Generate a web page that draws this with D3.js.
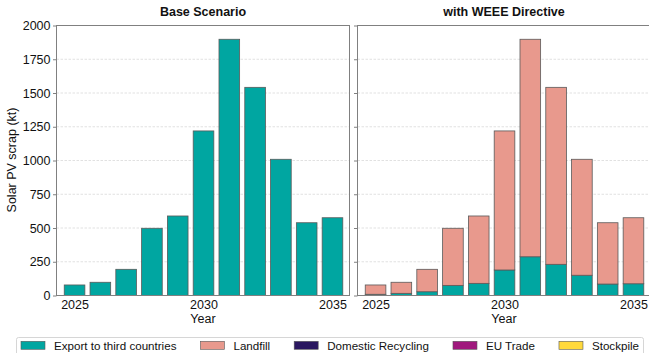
<!DOCTYPE html>
<html>
<head>
<meta charset="utf-8">
<script src="https://cdn.jsdelivr.net/npm/d3@7"></script>
<style>
  html, body { margin: 0; padding: 0; background: #fff; }
  svg { display: block; font-family: "Liberation Sans", Arial, sans-serif; }
</style>
</head>
<body>
<svg id="chart" width="649" height="353"></svg>
<script>
// Solar PV scrap flows (kt) by year, two scenarios
const years = [2025, 2026, 2027, 2028, 2029, 2030, 2031, 2032, 2033, 2034, 2035];

// Base scenario: everything exported to third countries
const baseExport = [78, 98, 194, 498, 589, 1219, 1898, 1542, 1009, 539, 576];
const baseLandfill = [0, 0, 0, 0, 0, 0, 0, 0, 0, 0, 0];

// WEEE Directive scenario
const weeeExport = [9, 16, 28, 75, 90, 189, 287, 231, 150, 85, 87];
const weeeLandfill = [69, 82, 166, 423, 499, 1030, 1611, 1311, 859, 454, 489];

// Flows that are zero in both scenarios (legend entries only)
const domesticRecycling = [0, 0, 0, 0, 0, 0, 0, 0, 0, 0, 0];
const euTrade = [0, 0, 0, 0, 0, 0, 0, 0, 0, 0, 0];
const stockpile = [0, 0, 0, 0, 0, 0, 0, 0, 0, 0, 0];

const categories = ["Export to third countries", "Landfill", "Domestic Recycling", "EU Trade", "Stockpile"];
const colors = ["#00a6a1", "#e8998d", "#2a1760", "#a0197d", "#ffd93c"];

const yTicks = [0, 250, 500, 750, 1000, 1250, 1500, 1750, 2000];
const xTicks = [2025, 2030, 2035];
const panelTitles = ["Base Scenario", "with WEEE Directive"];
const yLabel = "Solar PV scrap (kt)";
const xLabel = "Year";

const panels = [
  { title: panelTitles[0], series: [baseExport, baseLandfill, domesticRecycling, euTrade, stockpile] },
  { title: panelTitles[1], series: [weeeExport, weeeLandfill, domesticRecycling, euTrade, stockpile] }
];

const svg = d3.select("#chart");
const spineColor = "#808080";
const plotTop = 25.5, plotBottom = 295.5;
const panelLeft = [56.5, 357.5];
const panelWidth = 293;
const barWidth = 0.8;

const y = d3.scaleLinear().domain([0, 2000]).range([plotBottom, plotTop]);

panels.forEach((p, pi) => {
  const x0 = panelLeft[pi];
  const x = d3.scaleLinear().domain([2024.3, 2035.66]).range([x0, x0 + panelWidth]);
  const g = svg.append("g");

  // dashed horizontal grid
  g.append("g").selectAll("line")
    .data(yTicks.filter(t => t > 0 && t < 2000))
    .join("line")
    .attr("x1", x0).attr("x2", x0 + panelWidth)
    .attr("y1", d => y(d)).attr("y2", d => y(d))
    .attr("stroke", "#d4d4d4").attr("stroke-width", 0.7)
    .attr("stroke-dasharray", "2.5,1.5");

  // stacked bars
  const rows = years.map((yr, i) => {
    const r = { year: yr };
    categories.forEach((c, ci) => r[c] = p.series[ci][i]);
    return r;
  });
  const stacked = d3.stack().keys(categories)(rows);
  stacked.forEach((layer, li) => {
    g.append("g").selectAll("rect")
      .data(layer.filter(d => d[1] - d[0] > 0))
      .join("rect")
      .attr("x", d => x(d.data.year - barWidth / 2))
      .attr("width", d => x(d.data.year + barWidth / 2) - x(d.data.year - barWidth / 2))
      .attr("y", d => y(d[1]))
      .attr("height", d => y(d[0]) - y(d[1]))
      .attr("fill", colors[li])
      .attr("stroke", "#5a5a5a")
      .attr("stroke-width", 0.8);
  });

  // y axis
  const yAxis = d3.axisLeft(y).tickValues(yTicks).tickSize(3.5).tickPadding(2.5)
    .tickFormat(pi === 0 ? d3.format("d") : () => "");
  const ya = g.append("g").attr("transform", `translate(${x0},0)`).call(yAxis);
  ya.select(".domain").remove();
  ya.selectAll(".tick line").attr("stroke", spineColor);
  ya.selectAll(".tick text").attr("fill", "#111").attr("font-size", 12.5)
    .attr("font-family", "Liberation Sans, Arial, sans-serif");

  // x axis (labels only)
  const xAxis = d3.axisBottom(x).tickValues(xTicks).tickSize(0).tickPadding(5).tickFormat(d3.format("d"));
  const xa = g.append("g").attr("transform", `translate(0,${plotBottom})`).call(xAxis);
  xa.select(".domain").remove();
  xa.selectAll(".tick text").attr("fill", "#111").attr("font-size", 12.5)
    .attr("font-family", "Liberation Sans, Arial, sans-serif");

  // frame
  g.append("rect")
    .attr("x", x0).attr("y", plotTop)
    .attr("width", panelWidth).attr("height", plotBottom - plotTop)
    .attr("fill", "none").attr("stroke", spineColor).attr("stroke-width", 1);

  // titles
  g.append("text")
    .attr("x", x0 + panelWidth / 2).attr("y", 15.8)
    .attr("text-anchor", "middle").attr("font-weight", "bold").attr("font-size", 12.5)
    .attr("fill", "#111").text(p.title);

  g.append("text")
    .attr("x", x0 + panelWidth / 2).attr("y", 322.5)
    .attr("text-anchor", "middle").attr("font-size", 12.5)
    .attr("fill", "#111").text(xLabel);
});

// y label
svg.append("text")
  .attr("transform", "translate(16,160) rotate(-90)")
  .attr("text-anchor", "middle").attr("font-size", 12.5).attr("fill", "#111")
  .text(yLabel);

// legend
const legend = svg.append("g");
legend.append("rect")
  .attr("x", 16.5).attr("y", 337.5).attr("width", 627).attr("height", 24)
  .attr("rx", 2).attr("fill", "#fff").attr("stroke", "#cccccc").attr("stroke-width", 0.8);

let lx = 21;
categories.forEach((c, i) => {
  const item = legend.append("g");
  item.append("rect")
    .attr("x", lx).attr("y", 341.3).attr("width", 24).attr("height", 8)
    .attr("fill", colors[i]).attr("stroke", "#5a5a5a").attr("stroke-width", 0.6);
  const t = item.append("text")
    .attr("x", lx + 33).attr("y", 349.5)
    .attr("font-size", 11.6).attr("fill", "#111").text(c);
  lx += 33 + t.node().getComputedTextLength() + 24;
});
</script>
</body>
</html>
